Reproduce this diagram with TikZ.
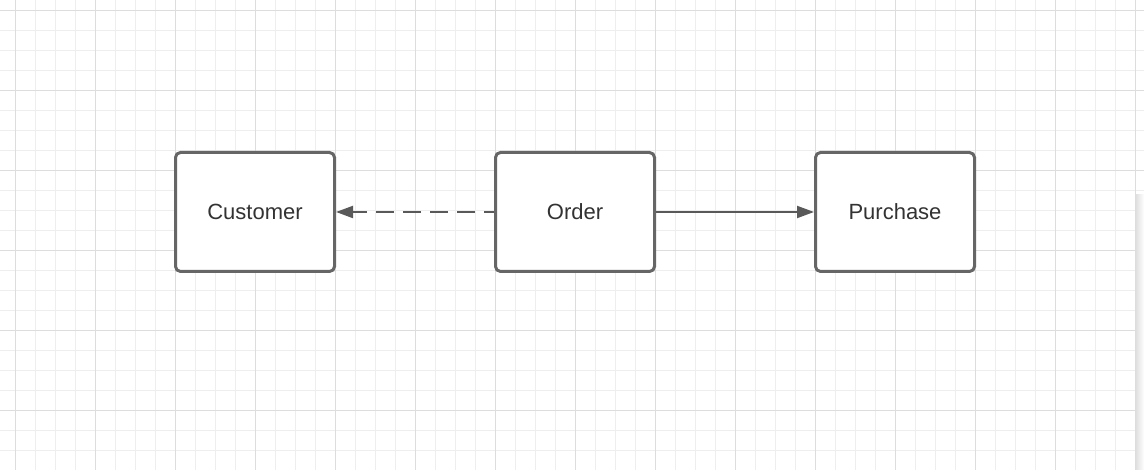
\documentclass[tikz,border=0pt]{standalone}
\usepackage{fontspec}
\setmainfont{Liberation Sans}
\usetikzlibrary{positioning}
\usetikzlibrary{arrows.meta}

\definecolor{boxgray}{HTML}{666666}
\definecolor{linkgray}{HTML}{595959}
\definecolor{textgray}{HTML}{333333}
\definecolor{minorgrid}{HTML}{EEEEEE}
\definecolor{majorgrid}{HTML}{DDDDDD}

\tikzset{
  entity/.style={rectangle,draw=boxgray,line width=1.5pt,rounded corners=2.5pt,fill=white,
    minimum width=79.5pt,minimum height=59.5pt,text=textgray,font=\fontsize{11}{13}\selectfont},
  link/.style={draw=linkgray,line width=1pt,-{Triangle[length=8.5pt,width=6pt]}},
  dashlink/.style={link,dash pattern=on 9pt off 4.5pt,dash phase=4pt}
}

\begin{document}
\begin{tikzpicture}[x=0.5pt,y=0.5pt]
\useasboundingbox (0,0) rectangle (1144,470);
\fill[white] (0,0) rectangle (1144,470);
% background grid
\foreach \i in {0,...,56} {
  \pgfmathtruncatemacro{\gx}{15+20*\i}
  \draw[minorgrid,line width=0.5pt] (\gx,0) -- (\gx,470);
}
\foreach \j in {0,...,22} {
  \pgfmathtruncatemacro{\gy}{19+20*\j}
  \draw[minorgrid,line width=0.5pt] (0,\gy) -- (1144,\gy);
}
\foreach \gx in {15,95,...,1135} \draw[majorgrid,line width=0.5pt] (\gx,0) -- (\gx,470);
\foreach \gy in {59,139,...,459} \draw[majorgrid,line width=0.5pt] (0,\gy) -- (1144,\gy);
\shade[left color=black!12,right color=white] (1136,0) rectangle (1144,275);

% entities
\node[entity] (order) at (575,258) {Order};
\node[entity,left=79pt of order] (customer) {Customer};
\node[entity,right=79pt of order] (purchase) {Purchase};

% relations
\draw[dashlink] (order.west) -- (customer.east);
\draw[link] (order.east) -- (purchase.west);

\end{tikzpicture}
\end{document}
